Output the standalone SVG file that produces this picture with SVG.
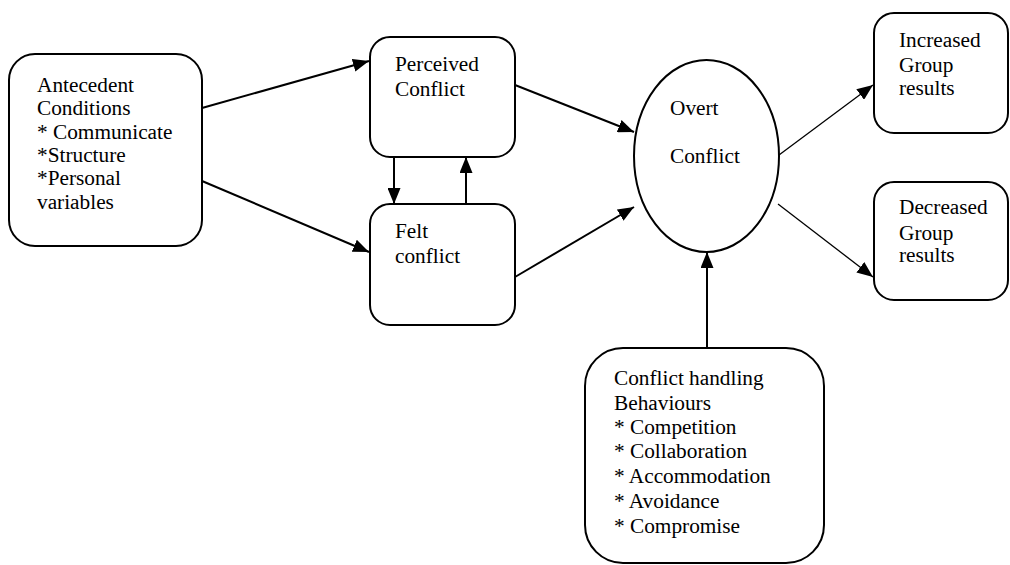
<svg xmlns="http://www.w3.org/2000/svg" width="1010" height="565" viewBox="0 0 1010 565">
  <defs>
    <marker id="arrow" markerUnits="userSpaceOnUse" markerWidth="17" markerHeight="13" refX="16" refY="6.5" orient="auto">
      <path d="M0,0 L16,6.5 L0,13 Z" fill="#000"/>
    </marker>
  </defs>
  <style>
    .box { fill: #fff; stroke: #000; stroke-width: 2; }
    .lbl { font-family: 'Liberation Serif', 'Times New Roman', serif; font-size: 21.3px; fill: #000; }
    .edge { stroke: #000; stroke-width: 2; fill: none; }
    .thin { stroke-width: 1.3; }
  </style>
  <rect width="1010" height="565" fill="#fff"/>

  <g id="connectors">
    <line class="edge" x1="202" y1="108" x2="369" y2="61" marker-end="url(#arrow)"/>
    <line class="edge" x1="202" y1="181" x2="369" y2="252" marker-end="url(#arrow)"/>
    <line class="edge" x1="394" y1="157" x2="394" y2="204" marker-end="url(#arrow)"/>
    <line class="edge" x1="466" y1="204" x2="466" y2="157" marker-end="url(#arrow)"/>
    <line class="edge" x1="515" y1="85" x2="634" y2="132" marker-end="url(#arrow)"/>
    <line class="edge" x1="515" y1="277" x2="634" y2="207" marker-end="url(#arrow)"/>
    <line class="edge thin" x1="779" y1="155" x2="873" y2="85" marker-end="url(#arrow)"/>
    <line class="edge thin" x1="778" y1="204" x2="873" y2="277" marker-end="url(#arrow)"/>
    <line class="edge" x1="707" y1="348" x2="707" y2="252" marker-end="url(#arrow)"/>
  </g>

  <g id="antecedent">
    <rect class="box" x="9" y="54" width="193" height="192" rx="26"/>
    <text class="lbl" x="37" y="92">Antecedent</text>
    <text class="lbl" x="37" y="115">Conditions</text>
    <text class="lbl" x="37" y="139">* Communicate</text>
    <text class="lbl" x="37" y="162">*Structure</text>
    <text class="lbl" x="37" y="185">*Personal</text>
    <text class="lbl" x="37" y="209">variables</text>
  </g>

  <g id="perceived">
    <rect class="box" x="370" y="37" width="145" height="120" rx="20"/>
    <text class="lbl" x="395" y="71">Perceived</text>
    <text class="lbl" x="395" y="96">Conflict</text>
  </g>

  <g id="felt">
    <rect class="box" x="370" y="204" width="145" height="121" rx="20"/>
    <text class="lbl" x="395" y="238">Felt</text>
    <text class="lbl" x="395" y="263">conflict</text>
  </g>

  <g id="overt">
    <ellipse class="box" cx="706.5" cy="156" rx="72.5" ry="96"/>
    <text class="lbl" x="670" y="115">Overt</text>
    <text class="lbl" x="670" y="163">Conflict</text>
  </g>

  <g id="increased">
    <rect class="box" x="874" y="13" width="134" height="120" rx="20"/>
    <text class="lbl" x="899" y="47">Increased</text>
    <text class="lbl" x="899" y="72">Group</text>
    <text class="lbl" x="899" y="95">results</text>
  </g>

  <g id="decreased">
    <rect class="box" x="874" y="182" width="134" height="118" rx="20"/>
    <text class="lbl" x="899" y="214">Decreased</text>
    <text class="lbl" x="899" y="240">Group</text>
    <text class="lbl" x="899" y="262">results</text>
  </g>

  <g id="handling">
    <rect class="box" x="585" y="348" width="239" height="215" rx="38"/>
    <text class="lbl" x="614" y="385">Conflict handling</text>
    <text class="lbl" x="614" y="410">Behaviours</text>
    <text class="lbl" x="614" y="434">* Competition</text>
    <text class="lbl" x="614" y="458">* Collaboration</text>
    <text class="lbl" x="614" y="483">* Accommodation</text>
    <text class="lbl" x="614" y="508">* Avoidance</text>
    <text class="lbl" x="614" y="533">* Compromise</text>
  </g>
</svg>
